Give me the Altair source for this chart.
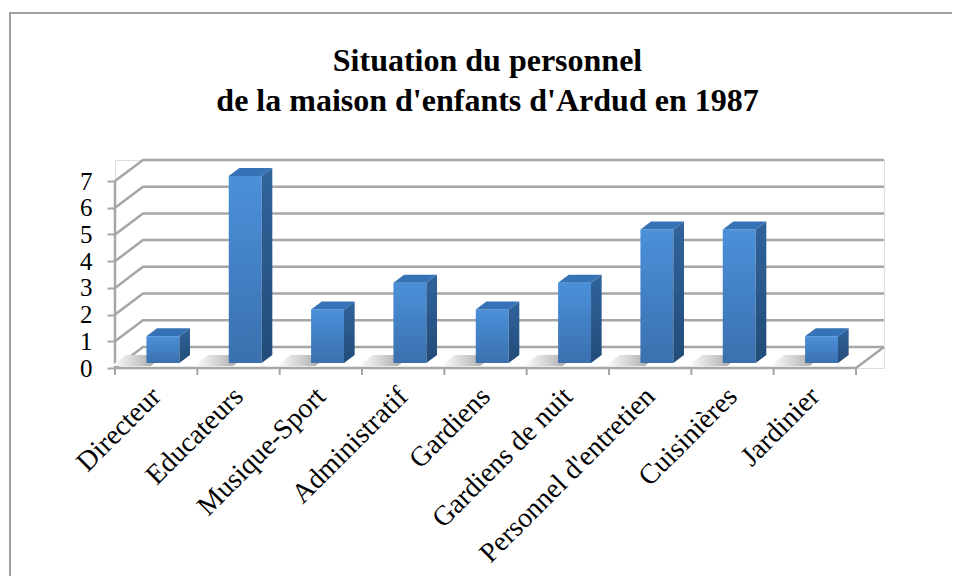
import json
import altair as alt
import pandas as pd

# ---- data ----
categories = ["Directeur", "Educateurs", "Musique-Sport", "Administratif", "Gardiens",
              "Gardiens de nuit", "Personnel d'entretien", "Cuisinières", "Jardinier"]
values = [1, 7, 2, 3, 2, 3, 5, 5, 1]
y_ticks = [0, 1, 2, 3, 4, 5, 6, 7]
title_lines = ["Situation du personnel", "de la maison d'enfants d'Ardud en 1987"]

# ---- 3D projection parameters (in data units) ----
N = len(categories)
YMAX = max(y_ticks)
DX = 0.34   # depth shift along x (category units)
DY = 0.79   # depth shift along y (value units)
ZF, ZB = 0.24, 0.62  # bar front / back depth fraction
A, W = 0.30, 0.40    # bar left offset and width inside category

W_PLOT, H_PLOT = 769, 208
FONT = "Liberation Serif"
GRID = "#a6a6a6"

xs = alt.Scale(domain=[0, N + DX], nice=False, zero=False)
ys = alt.Scale(domain=[0, YMAX + DY], nice=False, zero=False)

# back-wall gridlines: front-left -> back-left -> back-right
grid_rows = []
for v in y_ticks:
    grid_rows += [
        {"g": f"v{v}", "o": 0, "X": 0, "Y": v},
        {"g": f"v{v}", "o": 1, "X": DX, "Y": v + DY},
        {"g": f"v{v}", "o": 2, "X": N + DX, "Y": v + DY},
    ]
# floor outline and front vertical axis line
grid_rows += [
    {"g": "floor", "o": 0, "X": 0, "Y": 0},
    {"g": "floor", "o": 1, "X": N, "Y": 0},
    {"g": "floor", "o": 2, "X": N + DX, "Y": DY},
    {"g": "axis", "o": 0, "X": 0, "Y": 0},
    {"g": "axis", "o": 1, "X": 0, "Y": YMAX},
]
grid_df = pd.DataFrame(grid_rows)

front_df = pd.DataFrame({
    "cat": categories,
    "X": [i + A + ZF * DX for i in range(N)],
    "X2": [i + A + W + ZF * DX for i in range(N)],
    "Y": [ZF * DY for _ in range(N)],
    "Y2": [v + ZF * DY for v in values],
})

side_rows, top_rows, shadow_rows = [], [], []
for i, (c, v) in enumerate(zip(categories, values)):
    for z in (ZF, ZB):
        side_rows.append({"cat": c, "X": i + A + W + z * DX, "Y": z * DY, "Y2": v + z * DY})
        top_rows.append({"cat": c, "Y": v + z * DY, "X": i + A + z * DX, "X2": i + A + W + z * DX})
    for z in (ZF - 0.14, ZB):
        shadow_rows.append({"cat": c, "Y": z * DY, "X": i + A - 0.38 + z * DX, "X2": i + A + 0.1 + z * DX})
side_df = pd.DataFrame(side_rows)
top_df = pd.DataFrame(top_rows)
shadow_df = pd.DataFrame(shadow_rows)

tick_df = pd.DataFrame({"X": list(range(N + 1)), "Y": [0] * (N + 1)})

label_expr = json.dumps(categories, ensure_ascii=False) + "[floor(datum.value)]"

x_axis = alt.Axis(values=[i + 0.5 for i in range(N)], labelExpr=label_expr, ticks=False,
                  domain=False, grid=False, labelAngle=-45, labelAlign="right",
                  labelBaseline="middle", labelFont=FONT, labelFontSize=28, labelColor="#000",
                  labelPadding=24, labelLimit=500, labelOverlap=False, title=None)
y_axis = alt.Axis(values=y_ticks, domain=False, grid=False, ticks=True, tickSize=8,
                  tickColor=GRID, tickWidth=2, labelFont=FONT, labelFontSize=25,
                  labelColor="#000", labelPadding=15, labelOverlap=False,
                  labelBound=False, title=None)


def X(f="X"):
    return alt.X(f"{f}:Q", scale=xs, axis=x_axis)


def Y(f="Y"):
    return alt.Y(f"{f}:Q", scale=ys, axis=y_axis)


grid = alt.Chart(grid_df).mark_line(color=GRID, strokeWidth=2.5).encode(
    x=X(), y=Y(), detail="g:N", order="o:Q",
)

xticks = alt.Chart(tick_df).mark_rule(color=GRID, strokeWidth=2).encode(
    x=X(), y=Y(), y2=alt.value(H_PLOT + 7),
)

shadow = alt.Chart(shadow_df).mark_area(
    orient="horizontal",
    color=alt.Gradient(gradient="linear",
                       stops=[alt.GradientStop(color="#ffffff", offset=0),
                              alt.GradientStop(color="#cccccc", offset=0.5),
                              alt.GradientStop(color="#959595", offset=1)],
                       x1=0, x2=1, y1=0, y2=0),
).encode(y=Y(), x=X(), x2="X2:Q", detail="cat:N")

front = alt.Chart(front_df).mark_rect(
    color=alt.Gradient(gradient="linear",
                       stops=[alt.GradientStop(color="#4b90da", offset=0),
                              alt.GradientStop(color="#3a70ae", offset=1)],
                       x1=0, x2=0, y1=0, y2=1),
).encode(x=X(), x2="X2:Q", y=Y(), y2="Y2:Q")

side = alt.Chart(side_df).mark_area(
    orient="vertical",
    color=alt.Gradient(gradient="linear",
                       stops=[alt.GradientStop(color="#30649c", offset=0),
                              alt.GradientStop(color="#224b78", offset=1)],
                       x1=0, x2=0, y1=0, y2=1),
).encode(x=X(), y=Y(), y2="Y2:Q", detail="cat:N")

top = alt.Chart(top_df).mark_area(orient="horizontal", color="#3672b6").encode(
    y=Y(), x=X(), x2="X2:Q", detail="cat:N",
)

border = alt.Chart(alt.Data(values=[{}])).mark_rect(
    fill=None, stroke="#a0a0a0", strokeWidth=2
).encode(
    x=alt.value(-105), x2=alt.value(900),
    y=alt.value(-147), y2=alt.value(460),
)

chart = alt.layer(border, grid, xticks, shadow, front, side, top).properties(
    width=W_PLOT,
    height=H_PLOT,
    title=alt.Title(title_lines, font=FONT, fontSize=32, fontWeight="bold", color="#000",
                    lineHeight=40, anchor="middle", frame="group", dx=-12, offset=-106),
    autosize=alt.AutoSizeParams(type="none"),
    padding={"left": 107, "top": 152, "right": 68, "bottom": 208},
).configure_view(stroke=None).configure(background="white")

chart.save("out.html", embed_options={"renderer": "svg", "actions": False})
